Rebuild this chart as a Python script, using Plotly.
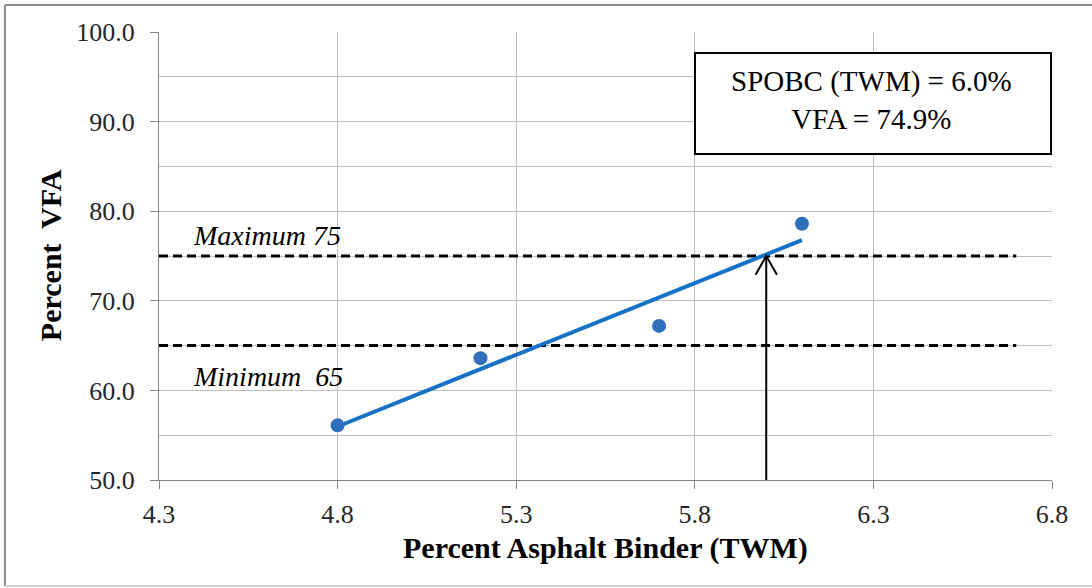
import numpy as np
import plotly.graph_objects as go

# Data
binder = [4.8, 5.2, 5.7, 6.1]
vfa = [56.1, 63.6, 67.2, 78.6]
vfa_max = 75
vfa_min = 65
limit_x = [4.3, 6.7]
spobc = 6.0
vfa_at_spobc = 74.9
x_ticks = [4.3, 4.8, 5.3, 5.8, 6.3, 6.8]

FONT = "Liberation Serif"

# Linear trendline (Excel-style least squares)
slope, intercept = np.polyfit(binder, vfa, 1)
trend_x = [min(binder), max(binder)]
trend_y = [slope * v + intercept for v in trend_x]

fig = go.Figure()

# Limit lines
fig.add_trace(go.Scatter(x=limit_x, y=[vfa_max, vfa_max], mode="lines",
                         line=dict(color="black", width=3, dash="9px,5px"),
                         hoverinfo="skip", showlegend=False))
fig.add_trace(go.Scatter(x=limit_x, y=[vfa_min, vfa_min], mode="lines",
                         line=dict(color="black", width=3, dash="9px,5px"),
                         hoverinfo="skip", showlegend=False))

# Trendline
fig.add_trace(go.Scatter(x=trend_x, y=trend_y, mode="lines",
                         line=dict(color="#1672C4", width=4),
                         showlegend=False))

# Data points
fig.add_trace(go.Scatter(x=binder, y=vfa, mode="markers",
                         marker=dict(color="#2F6EBA", size=14),
                         showlegend=False))

# Vertical arrow at SPOBC
fig.add_shape(type="line", xref="x", yref="y", x0=spobc, x1=spobc, y0=50, y1=vfa_max,
              line=dict(color="black", width=2))
fig.add_shape(type="path", xref="x", yref="y",
              path=f"M {spobc-0.03},{vfa_max-2.1} L {spobc},{vfa_max} L {spobc+0.03},{vfa_max-2.1}",
              line=dict(color="black", width=2))

# Result box
fig.add_shape(type="rect", xref="paper", yref="paper", x0=0.6002, x1=0.9989, y0=0.7277, y1=0.953,
              line=dict(color="black", width=2), fillcolor="white", layer="above")
fig.add_annotation(xref="paper", yref="paper", x=0.798, y=0.848, showarrow=False,
                   xanchor="center", yanchor="middle",
                   text=f"SPOBC (TWM) = {spobc:.1f}%<br>VFA = {vfa_at_spobc:.1f}%",
                   font=dict(family=FONT, size=29, color="black"), align="center")

# Limit labels
fig.add_annotation(x=4.39, y=77.3, xref="x", yref="y", showarrow=False, xanchor="left", yanchor="middle",
                   text=f"<i>Maximum {vfa_max}</i>", font=dict(family=FONT, size=28, color="black"))
fig.add_annotation(x=4.39, y=61.5, xref="x", yref="y", showarrow=False, xanchor="left", yanchor="middle",
                   text=f"<i>Minimum  {vfa_min}</i>", font=dict(family=FONT, size=28, color="black"))

# Axis titles
fig.add_annotation(xref="paper", yref="paper", x=0.5, y=-0.152, showarrow=False,
                   text="<b>Percent Asphalt Binder (TWM)</b>", xanchor="center", yanchor="middle",
                   font=dict(family=FONT, size=30, color="black"))
fig.add_annotation(xref="paper", yref="paper", x=-0.122, y=0.502, showarrow=False,
                   text="<b>Percent  VFA</b>", textangle=-90, xanchor="center", yanchor="middle",
                   font=dict(family=FONT, size=30, color="black"))

# Outer border (left, top, bottom)
border = dict(color="#8C8C8C", width=2)
fig.add_shape(type="line", xref="paper", yref="paper", x0=-0.1725, x1=-0.1725, y0=-0.2366, y1=1.0603, line=border)
fig.add_shape(type="line", xref="paper", yref="paper", x0=-0.1725, x1=1.06, y0=1.0603, y1=1.0603, line=border)
fig.add_shape(type="line", xref="paper", yref="paper", x0=-0.1725, x1=1.06, y0=-0.2366, y1=-0.2366,
              line=dict(color="#D0D0D0", width=2))

fig.update_xaxes(range=[4.3, 6.8], tickvals=x_ticks, ticktext=[f"{v:.1f}" for v in x_ticks],
                 showgrid=True, gridcolor="#BFBFBF", gridwidth=1,
                 showline=True, linecolor="#868686", linewidth=1,
                 ticks="outside", ticklen=8, tickcolor="#868686",
                 ticklabelstandoff=3,
                 tickfont=dict(family=FONT, size=26, color="#262626"),
                 zeroline=False, fixedrange=True)
fig.update_yaxes(range=[50, 100], dtick=10, tickformat=".1f",
                 showgrid=True, gridcolor="#BFBFBF", gridwidth=1,
                 minor=dict(dtick=5, showgrid=True, gridcolor="#BFBFBF", gridwidth=1),
                 showline=True, linecolor="#868686", linewidth=1,
                 ticks="outside", ticklen=8, tickcolor="#868686",
                 ticklabelstandoff=10,
                 tickfont=dict(family=FONT, size=26, color="#262626"),
                 zeroline=False, fixedrange=True)

fig.update_layout(width=1092, height=588, margin=dict(l=159, r=40, t=32, b=108),
                  plot_bgcolor="white", paper_bgcolor="white", showlegend=False)

fig.write_html("out.html", config={"displayModeBar": False},
               post_script="document.body.style.margin='0';document.body.style.overflow='hidden';")
